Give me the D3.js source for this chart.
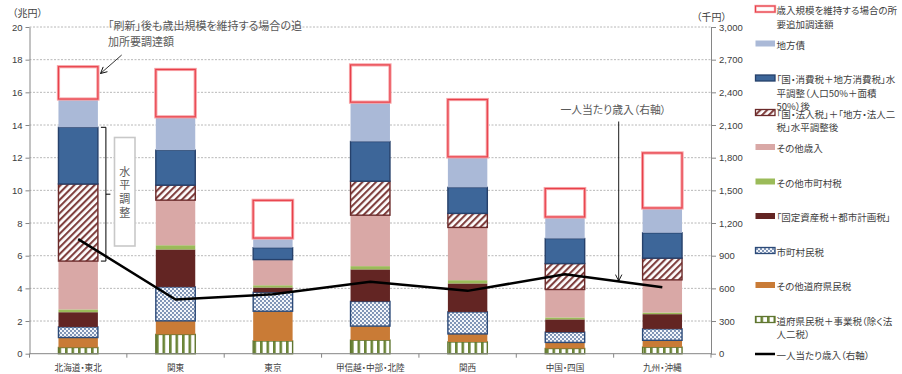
<!DOCTYPE html>
<html>
<head>
<meta charset="utf-8">
<script src="https://cdn.jsdelivr.net/npm/d3@7"></script>
<style>
  body { margin: 0; background: #fff; }
  svg { display: block; font-family: "Noto Sans CJK JP", sans-serif; }
  .jp { font-feature-settings: "palt"; }
  .num { font-family: "Liberation Sans", Arial, sans-serif; }
</style>
</head>
<body>
<svg id="chart" width="902" height="374"></svg>
<script>
// ---- data (兆円 for stacked segments, 千円 for per-capita revenue) ----
const categories = ["北海道・東北", "関東", "東京", "甲信越・中部・北陸", "関西", "中国・四国", "九州・沖縄"];

const prefResidentBusinessTax = [0.38, 1.18, 0.78, 0.83, 0.72, 0.32, 0.40]; // 道府県民税＋事業税（除く法人二税）
const otherPrefResidentTax    = [0.61, 0.83, 1.82, 0.86, 0.49, 0.37, 0.42]; // その他道府県民税
const municipalResidentTax    = [0.65, 2.08, 1.16, 1.51, 1.35, 0.63, 0.70]; // 市町村民税
const propertyCityPlanTax     = [0.90, 2.29, 0.29, 1.96, 1.74, 0.78, 0.90]; // 固定資産税＋都市計画税
const otherMunicipalTax       = [0.17, 0.26, 0.14, 0.20, 0.20, 0.12, 0.10]; // その他市町村税
const otherRevenue            = [2.96, 2.76, 1.57, 3.12, 3.23, 1.71, 2.00]; // その他歳入
const corporateTaxAdjusted    = [4.72, 0.92, 0.00, 2.08, 0.86, 1.59, 1.33]; // 国・法人税＋地方・法人二税 水平調整後
const consumptionTaxAdjusted  = [3.47, 2.14, 0.73, 2.43, 1.59, 1.53, 1.55]; // 国・消費税＋地方消費税 水平調整後
const localBonds              = [1.73, 2.04, 0.59, 2.41, 1.87, 1.32, 1.52]; // 地方債
const additionalFunding       = [1.98, 2.90, 2.31, 2.28, 3.51, 1.74, 3.37]; // 追加所要調達額

const perCapitaRevenue = [1052, 498, 546, 660, 577, 730, 611]; // 一人当たり歳入（千円）

const leftTicks  = d3.range(0, 21, 2);
const rightTicks = d3.range(0, 3001, 300);

// stack order, bottom to top
const series = [
  { key: "prefBiz",   values: prefResidentBusinessTax, fill: "url(#pStripes)", stroke: "#5f7530", sw: 1.4,
    label: ["道府県民税＋事業税（除く法", "人二税）"] },
  { key: "prefOther", values: otherPrefResidentTax,    fill: "#c97b36", stroke: "none", sw: 0,
    label: ["その他道府県民税"] },
  { key: "muniRes",   values: municipalResidentTax,    fill: "url(#pDots)", stroke: "#2c4a78", sw: 1.4,
    label: ["市町村民税"] },
  { key: "property",  values: propertyCityPlanTax,     fill: "#632523", stroke: "none", sw: 0,
    label: ["「固定資産税＋都市計画税」"] },
  { key: "muniOther", values: otherMunicipalTax,       fill: "#9bbb59", stroke: "none", sw: 0,
    label: ["その他市町村税"] },
  { key: "otherRev",  values: otherRevenue,            fill: "#d9a8a6", stroke: "none", sw: 0,
    label: ["その他歳入"] },
  { key: "corp",      values: corporateTaxAdjusted,    fill: "url(#pHatch)", stroke: "#6b2a2a", sw: 1.4,
    label: ["「国・法人税」＋「地方・法人二", "税」水平調整後"] },
  { key: "cons",      values: consumptionTaxAdjusted,  fill: "#3d6699", stroke: "#26416b", sw: 1.4,
    label: ["「国・消費税＋地方消費税」水", "平調整（人口50%＋面積", "50%）後"] },
  { key: "bonds",     values: localBonds,              fill: "#aab9d7", stroke: "none", sw: 0,
    label: ["地方債"] },
  { key: "extra",     values: additionalFunding,       fill: "#ffffff", stroke: "red-double", sw: 0,
    label: ["歳入規模を維持する場合の所", "要追加調達額"] }
];
const lineLabel = "一人当たり歳入（右軸）";

// ---- layout ----
const svg = d3.select("#chart");
const plot = { left: 29.5, right: 711, top: 27, bottom: 353.7 };

const x = d3.scaleBand().domain(categories).range([plot.left, plot.right]).padding(0);
const barW = x.bandwidth() * 0.405;
const yL = d3.scaleLinear().domain([0, 20]).range([plot.bottom, plot.top]);
const yR = d3.scaleLinear().domain([0, 3000]).range([plot.bottom, plot.top]);

// ---- patterns & markers ----
const defs = svg.append("defs");

const pS = defs.append("pattern").attr("id", "pStripes").attr("patternUnits", "userSpaceOnUse")
  .attr("width", 6.5).attr("height", 10);
pS.append("rect").attr("width", 6.5).attr("height", 10).attr("fill", "#fff");
pS.append("rect").attr("x", 0).attr("width", 2.6).attr("height", 10).attr("fill", "#6a8436");

const pD = defs.append("pattern").attr("id", "pDots").attr("patternUnits", "userSpaceOnUse")
  .attr("width", 4).attr("height", 4);
pD.append("rect").attr("width", 4).attr("height", 4).attr("fill", "#f4f6fa");
pD.append("circle").attr("cx", 1).attr("cy", 1).attr("r", 0.9).attr("fill", "#4a6796");
pD.append("circle").attr("cx", 3).attr("cy", 3).attr("r", 0.9).attr("fill", "#4a6796");

const pH = defs.append("pattern").attr("id", "pHatch").attr("patternUnits", "userSpaceOnUse")
  .attr("width", 4.8).attr("height", 10).attr("patternTransform", "rotate(45)");
pH.append("rect").attr("width", 4.8).attr("height", 10).attr("fill", "#fff");
pH.append("rect").attr("width", 2.1).attr("height", 10).attr("fill", "#80403f");

defs.append("marker").attr("id", "arrowOpen").attr("viewBox", "0 0 10 10")
  .attr("refX", 9).attr("refY", 5).attr("markerWidth", 8).attr("markerHeight", 8)
  .attr("markerUnits", "userSpaceOnUse").attr("orient", "auto")
  .append("path").attr("d", "M1,1 L9,5 L1,9").attr("fill", "none")
  .attr("stroke", "#000").attr("stroke-width", 1.1);

// ---- gridlines ----
svg.append("g").selectAll("line").data(leftTicks.filter(d => d > 0)).join("line")
  .attr("x1", plot.left).attr("x2", plot.right)
  .attr("y1", d => yL(d)).attr("y2", d => yL(d))
  .attr("stroke", "#a6a6a6").attr("stroke-width", 0.8).attr("stroke-dasharray", "2,1.5");

// ---- stacked bars ----
const table = categories.map((c, i) => {
  const row = { category: c };
  series.forEach(s => { row[s.key] = s.values[i]; });
  return row;
});
const stacked = d3.stack().keys(series.map(s => s.key))(table);

const barsG = svg.append("g");
stacked.forEach((layer, li) => {
  const s = series[li];
  const segs = layer.map(d => ({ x0: x(d.data.category) + (x.bandwidth() - barW) / 2, y0: d[0], y1: d[1] }))
    .filter(d => d.y1 - d.y0 > 0);
  if (s.stroke === "red-double") {
    barsG.append("g").selectAll("rect").data(segs).join("rect")
      .attr("x", d => d.x0).attr("width", barW)
      .attr("y", d => yL(d.y1)).attr("height", d => yL(d.y0) - yL(d.y1))
      .attr("fill", s.fill).attr("stroke", "#f7a3a7").attr("stroke-width", 3.2);
    barsG.append("g").selectAll("rect").data(segs).join("rect")
      .attr("x", d => d.x0).attr("width", barW)
      .attr("y", d => yL(d.y1)).attr("height", d => yL(d.y0) - yL(d.y1))
      .attr("fill", "none").attr("stroke", "#e8404a").attr("stroke-width", 1.2);
  } else {
    barsG.append("g").selectAll("rect").data(segs).join("rect")
      .attr("x", d => d.x0).attr("width", barW)
      .attr("y", d => yL(d.y1)).attr("height", d => yL(d.y0) - yL(d.y1))
      .attr("fill", s.fill)
      .attr("stroke", s.stroke === "none" ? null : s.stroke)
      .attr("stroke-width", s.sw);
  }
});

// ---- per-capita revenue line (right axis) ----
const linePts = categories.map((c, i) => [x(c) + x.bandwidth() / 2, yR(perCapitaRevenue[i])]);
svg.append("path").attr("d", d3.line()(linePts))
  .attr("fill", "none").attr("stroke", "#000").attr("stroke-width", 2.5)
  .attr("stroke-linejoin", "round");

// ---- axes ----
const axisColor = "#868686";
const textColor = "#404040";

const gL = svg.append("g").attr("transform", `translate(${plot.left},0)`)
  .call(d3.axisLeft(yL).tickValues(leftTicks).tickSize(4).tickSizeOuter(0).tickPadding(3));
gL.select(".domain").attr("stroke", axisColor);
gL.selectAll(".tick line").attr("stroke", axisColor);
gL.selectAll(".tick text").attr("class", "num").attr("font-size", 9.5).attr("fill", textColor);

const gR = svg.append("g").attr("transform", `translate(${plot.right},0)`)
  .call(d3.axisRight(yR).tickValues(rightTicks).tickFormat(d3.format(",")).tickSize(5).tickSizeOuter(0).tickPadding(3));
gR.select(".domain").attr("stroke", axisColor);
gR.selectAll(".tick line").attr("stroke", axisColor);
gR.selectAll(".tick text").attr("class", "num").attr("font-size", 9.5).attr("fill", textColor);

// category axis with ticks on category boundaries
svg.append("line").attr("x1", plot.left).attr("x2", plot.right)
  .attr("y1", plot.bottom).attr("y2", plot.bottom).attr("stroke", axisColor);
const bounds = categories.map(c => x(c)).concat([plot.right]);
svg.append("g").selectAll("line").data(bounds).join("line")
  .attr("x1", d => d).attr("x2", d => d)
  .attr("y1", plot.bottom).attr("y2", plot.bottom + 4).attr("stroke", axisColor);
svg.append("g").selectAll("text").data(categories).join("text")
  .attr("class", "jp")
  .attr("x", d => x(d) + x.bandwidth() / 2).attr("y", 366.5)
  .attr("text-anchor", "middle").attr("dominant-baseline", "central")
  .attr("font-size", 8.6).attr("fill", textColor).text(d => d);

// unit labels
svg.append("text").attr("class", "jp").attr("x", 12.5).attr("y", 12.5)
  .attr("dominant-baseline", "central").attr("font-size", 10).attr("fill", textColor).text("（兆円）");
svg.append("text").attr("class", "jp").attr("x", 696.5).attr("y", 16.7)
  .attr("dominant-baseline", "central").attr("font-size", 10).attr("fill", textColor).text("（千円）");

// ---- annotations ----
const noteColor = "#595959";
const note1 = ["「刷新」後も歳出規模を維持する場合の追", "加所要調達額"];
svg.append("g").selectAll("text").data(note1).join("text")
  .attr("class", "jp").attr("x", 108).attr("y", (d, i) => 25 + i * 15.8)
  .attr("dominant-baseline", "central").attr("font-size", 11).attr("fill", noteColor).text(d => d);
svg.append("line").attr("x1", 121.7).attr("y1", 55).attr("x2", 100.5).attr("y2", 73.5)
  .attr("stroke", "#000").attr("stroke-width", 0.8).attr("marker-end", "url(#arrowOpen)");

// bracket marking the horizontally adjusted segments of the first bar
const bx = x(categories[0]) + (x.bandwidth() + barW) / 2;
const bTop = yL(d3.sum(series.slice(0, 8), s => s.values[0]));
const bBot = yL(d3.sum(series.slice(0, 6), s => s.values[0]));
svg.append("path")
  .attr("d", `M${bx + 3},${bTop} H${bx + 8} V${bBot} H${bx + 3} M${bx + 8},${(bTop + bBot) / 2} H${bx + 12.5}`)
  .attr("fill", "none").attr("stroke", "#000").attr("stroke-width", 1);
svg.append("rect").attr("x", 114.5).attr("y", 137.5).attr("width", 20.5).attr("height", 108.5)
  .attr("fill", "#fff").attr("stroke", "#c8c8c8").attr("stroke-width", 1.6);
// vertical label inside the box
svg.append("text")
  .attr("x", 124.8).attr("y", 193.3)
  .attr("writing-mode", "vertical-rl")
  .attr("text-anchor", "middle")
  .attr("letter-spacing", 2.6)
  .attr("font-size", 11).attr("fill", noteColor).text("水平調整");

svg.append("text").attr("class", "jp").attr("x", 560.5).attr("y", 108.5)
  .attr("dominant-baseline", "central").attr("font-size", 10.8).attr("fill", noteColor).text(lineLabel);
svg.append("line").attr("x1", 618.7).attr("y1", 121.5).attr("x2", 618.7).attr("y2", 281)
  .attr("stroke", "#000").attr("stroke-width", 0.9).attr("marker-end", "url(#arrowOpen)");

// ---- legend ----
const legendItems = series.slice().reverse().concat([{ key: "line", label: [lineLabel] }]);
const legY = d3.scaleLinear().domain([0, legendItems.length - 1]).range([9, 354]);
const lg = svg.append("g");
legendItems.forEach((it, i) => {
  const cy = legY(i);
  const g = lg.append("g");
  if (it.key === "line") {
    g.append("line").attr("x1", 755).attr("x2", 775).attr("y1", cy).attr("y2", cy)
      .attr("stroke", "#000").attr("stroke-width", 2.5);
  } else if (it.stroke === "red-double") {
    g.append("rect").attr("x", 755.5).attr("y", cy - 3).attr("width", 19.5).attr("height", 6)
      .attr("fill", "#fff").attr("stroke", "#f7a3a7").attr("stroke-width", 2.4);
    g.append("rect").attr("x", 755.5).attr("y", cy - 3).attr("width", 19.5).attr("height", 6)
      .attr("fill", "none").attr("stroke", "#e8404a").attr("stroke-width", 1);
  } else {
    g.append("rect").attr("x", 755.5).attr("y", cy - 3).attr("width", 19.5).attr("height", 6)
      .attr("fill", it.fill)
      .attr("stroke", it.stroke === "none" ? null : it.stroke)
      .attr("stroke-width", it.sw ? 1.3 : 0);
  }
  g.selectAll("text").data(it.label).join("text")
    .attr("class", "jp").attr("x", 776.5).attr("y", (d, j) => cy + 1 + j * 13.6)
    .attr("dominant-baseline", "central").attr("font-size", 9.5).attr("fill", textColor).text(d => d);
});
</script>
</body>
</html>
